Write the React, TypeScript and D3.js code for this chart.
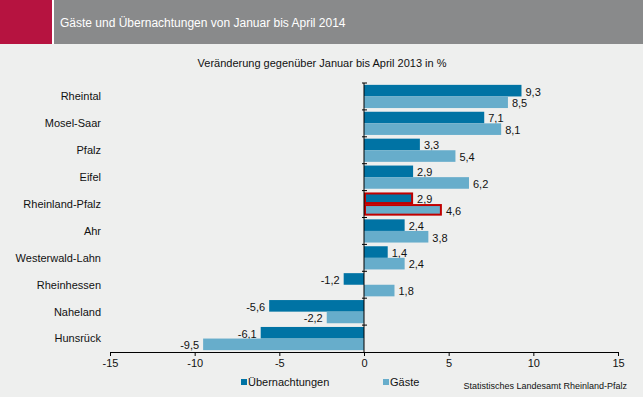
import { useEffect, useRef } from "react";
import * as d3 from "d3";

const categories = [
  "Rheintal",
  "Mosel-Saar",
  "Pfalz",
  "Eifel",
  "Rheinland-Pfalz",
  "Ahr",
  "Westerwald-Lahn",
  "Rheinhessen",
  "Naheland",
  "Hunsrück",
];
const uebernachtungen = [9.3, 7.1, 3.3, 2.9, 2.9, 2.4, 1.4, -1.2, -5.6, -6.1];
const gaeste = [8.5, 8.1, 5.4, 6.2, 4.6, 3.8, 2.4, 1.8, -2.2, -9.5];
const xTicks = [-15, -10, -5, 0, 5, 10, 15];
const highlight = "Rheinland-Pfalz";

const seriesNames = ["Übernachtungen", "Gäste"];
const seriesColors = ["#0073a4", "#67adcb"];

const width = 643;
const height = 397;
const font = "'Liberation Sans', Arial, sans-serif";

export default function App() {
  const svgRef = useRef<SVGSVGElement>(null);

  useEffect(() => {
    if (!svgRef.current) return;
    const svg = d3.select(svgRef.current);
    svg.selectAll("*").remove();

    // background + header
    svg.append("rect").attr("width", width).attr("height", height).attr("fill", "#eeefee");
    svg.append("rect").attr("width", width).attr("height", 44).attr("fill", "#ffffff");
    svg.append("rect").attr("width", 52).attr("height", 44).attr("fill", "#b61340");
    svg.append("rect").attr("x", 54).attr("width", width - 54).attr("height", 44).attr("fill", "#898a8b");
    svg
      .append("text")
      .attr("x", 60)
      .attr("y", 23)
      .attr("dy", "0.35em")
      .attr("fill", "#ffffff")
      .attr("font-size", 12)
      .text("Gäste und Übernachtungen von Januar bis April 2014");

    svg
      .append("text")
      .attr("x", 322)
      .attr("y", 63)
      .attr("dy", "0.35em")
      .attr("text-anchor", "middle")
      .attr("font-size", 11)
      .attr("fill", "#111")
      .text("Veränderung gegenüber Januar bis April 2013 in %");

    const x = d3.scaleLinear().domain([-15, 15]).range([110, 618]);
    const y = d3.scaleBand().domain(categories).range([83, 352]);
    const inner = d3.scaleBand().domain(seriesNames).range([0, y.bandwidth()]).paddingOuter(0.16);

    // x axis
    const xAxis = svg
      .append("g")
      .attr("transform", `translate(0,${y.range()[1]})`)
      .call(d3.axisBottom(x).tickValues(xTicks).tickSize(4).tickPadding(3).tickFormat((d) => String(d)));
    xAxis.select(".domain").attr("stroke", "#000");
    xAxis.selectAll(".tick line").attr("stroke", "#000");
    xAxis.selectAll("text").attr("font-size", 11).attr("font-family", font).attr("fill", "#111");

    // bars
    const rows = categories.map((c, i) => ({ c, vals: [uebernachtungen[i], gaeste[i]] }));
    rows.forEach((r) => {
      r.vals.forEach((v, s) => {
        const yy = (y(r.c) ?? 0) + (inner(seriesNames[s]) ?? 0);
        const h = inner.bandwidth();
        const isHi = r.c === highlight;
        svg
          .append("rect")
          .attr("x", Math.min(x(0), x(v)) + (isHi ? 1 : 0))
          .attr("y", yy + (isHi ? 1 : 0))
          .attr("width", Math.abs(x(v) - x(0)) - (isHi ? 2 : 0))
          .attr("height", h - (isHi ? 2 : 0))
          .attr("fill", seriesColors[s])
          .attr("stroke", isHi ? "#c00000" : "none")
          .attr("stroke-width", isHi ? 2 : 0);
        svg
          .append("text")
          .attr("x", v >= 0 ? x(v) + 4 : x(v) - 4)
          .attr("y", yy + h / 2 + 1)
          .attr("dy", "0.35em")
          .attr("text-anchor", v >= 0 ? "start" : "end")
          .attr("font-size", 11)
          .attr("fill", "#111")
          .text(d3.format(".1f")(v).replace(".", ",").replace("−", "-"));
      });
    });

    // y axis on zero line
    svg
      .append("line")
      .attr("x1", x(0))
      .attr("x2", x(0))
      .attr("y1", y.range()[0])
      .attr("y2", y.range()[1])
      .attr("stroke", "#000");
    categories.forEach((c) => {
      svg
        .append("line")
        .attr("x1", x(0) - 2)
        .attr("x2", x(0) + 3)
        .attr("y1", y(c) ?? 0)
        .attr("y2", y(c) ?? 0)
        .attr("stroke", "#000");
      svg
        .append("text")
        .attr("x", 101)
        .attr("y", (y(c) ?? 0) + y.bandwidth() / 2)
        .attr("dy", "0.35em")
        .attr("text-anchor", "end")
        .attr("font-size", 11)
        .attr("fill", "#111")
        .text(c);
    });

    // legend
    const legendX = [241, 383];
    seriesNames.forEach((n, i) => {
      svg
        .append("rect")
        .attr("x", legendX[i])
        .attr("y", 379)
        .attr("width", 6)
        .attr("height", 6)
        .attr("fill", seriesColors[i]);
      svg
        .append("text")
        .attr("x", legendX[i] + 7)
        .attr("y", 382)
        .attr("dy", "0.35em")
        .attr("font-size", 11)
        .attr("fill", "#111")
        .text(n);
    });

    svg
      .append("text")
      .attr("x", 627)
      .attr("y", 386)
      .attr("dy", "0.35em")
      .attr("text-anchor", "end")
      .attr("font-size", 9)
      .attr("fill", "#111")
      .text("Statistisches Landesamt Rheinland-Pfalz");

    return () => {
      svg.selectAll("*").remove();
    };
  }, []);

  return (
    <svg
      ref={svgRef}
      width={width}
      height={height}
      style={{ position: "absolute", left: 0, top: 0, fontFamily: font }}
    />
  );
}
